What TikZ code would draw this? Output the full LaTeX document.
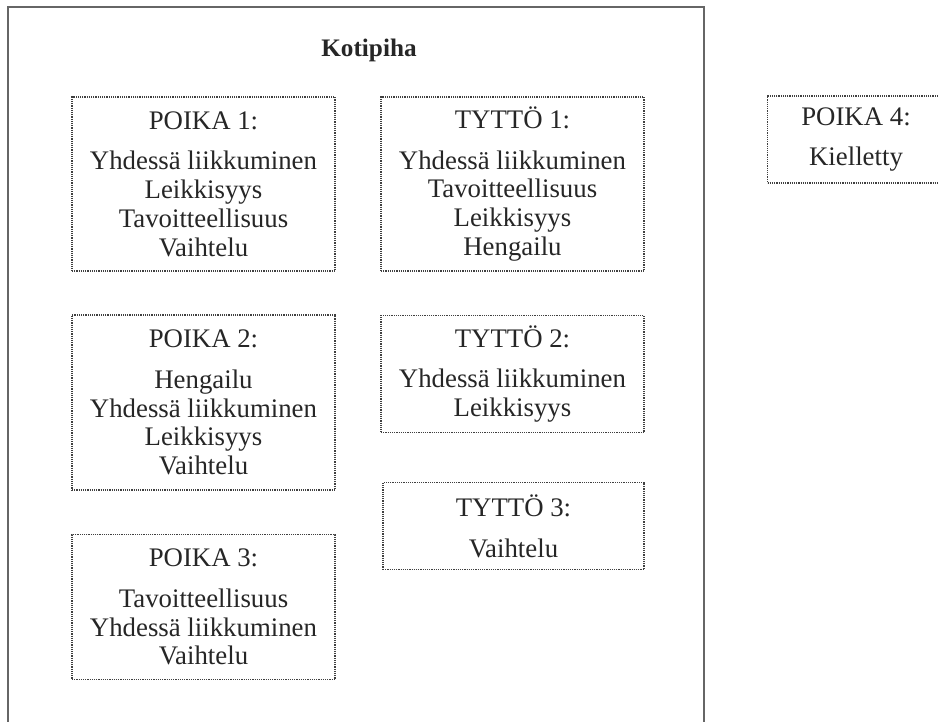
\documentclass[tikz,border=0pt]{standalone}
\usepackage{fontspec}
\setmainfont{Liberation Serif}
\usetikzlibrary{calc,positioning}

\begin{document}
\begin{tikzpicture}[
	%	style def
    x=0.5pt, y=-0.5pt,
    frame line/.style={line width=1pt, color=black!60},
    group box/.style={draw=black!75, line width=0.6pt, dash pattern=on 0.6pt off 0.5pt,
        align=center, inner sep=0pt, text=black!85,
        font=\fontsize{13.4}{14.4}\selectfont},
    every node/.style={color=black}
    ]
    \clip (0,0) rectangle (939,722);
	
	% yard frame (open at the bottom)
	\draw[frame line] (8,740) coordinate (fl) -- (8,7) coordinate (tl) -- (704,7) coordinate (tr) -- (704,740) coordinate (fr);
	\node[font=\bfseries\fontsize{12.6}{14.3}\selectfont, text=black!85] (kotipiha) at (369,50) {Kotipiha};
	
	% boys
	\node[group box, minimum width=131.5pt, minimum height=87pt] (poika1) at (203.5,184)
	    {POIKA 1:\\[6pt] Yhdessä liikkuminen\\ Leikkisyys\\ Tavoitteellisuus\\ Vaihtelu};
	\node[group box, minimum width=131.5pt, minimum height=87.5pt] (poika2) at (203.5,402.5)
	    {POIKA 2:\\[6pt] Hengailu\\ Yhdessä liikkuminen\\ Leikkisyys\\ Vaihtelu};
	\node[group box, minimum width=131.5pt, minimum height=72.5pt] (poika3) at (203.5,607)
	    {POIKA 3:\\[6pt] Tavoitteellisuus\\ Yhdessä liikkuminen\\ Vaihtelu};
	
	% girls
	\node[group box, minimum width=131.5pt, minimum height=87pt] (tytto1) at (512.5,184)
	    {TYTTÖ 1:\\[6pt] Yhdessä liikkuminen\\ Tavoitteellisuus\\ Leikkisyys\\ Hengailu};
	\node[group box, minimum width=131.5pt, minimum height=58.5pt] (tytto2) at (512.5,374)
	    {TYTTÖ 2:\\[6pt] Yhdessä liikkuminen\\ Leikkisyys};
	\node[group box, minimum width=130.5pt, minimum height=43.5pt] (tytto3) at (513.5,526)
	    {TYTTÖ 3:\\[6pt] Vaihtelu};
	
	% outside the yard
	\node[group box, minimum width=88.5pt, minimum height=43.5pt] (poika4) at (856,139.5)
	    {POIKA 4:\\[6pt] Kielletty};
\end{tikzpicture}
\end{document}
